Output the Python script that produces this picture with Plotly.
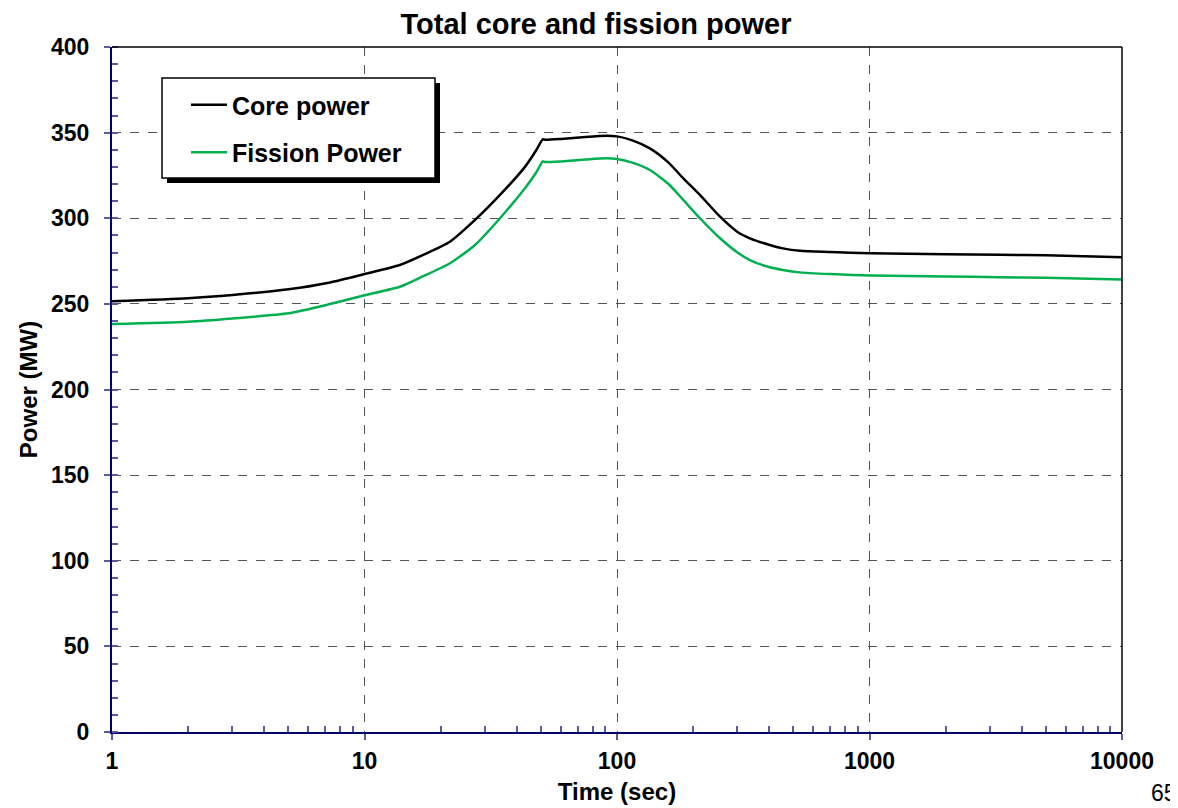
import plotly.graph_objects as go

# ---- data ----
time_s = [1, 2, 3, 5, 7.3, 10, 13.8, 17, 21.8, 27.4, 34.4, 43.2, 48, 50.8, 52, 60, 75, 91, 100,
          115, 135, 160, 183, 213, 256, 300, 336, 400, 454, 531, 700, 1000, 2000, 3290, 5000, 10000]
core_power = [251.5, 253.3, 255.2, 258.5, 262.5, 267.4, 272.7, 278.5, 286.3, 299.0, 313.6, 330.0,
              340.0, 346.1, 345.8, 346.3, 347.5, 348.2, 347.8, 345.5, 340.8, 332.5, 323.3, 313.6,
              300.9, 292.0, 288.3, 284.5, 282.4, 281.0, 280.3, 279.5, 279.0, 278.7, 278.4, 277.2]
fission_power = [238.2, 239.6, 241.5, 244.5, 249.9, 255.0, 260.0, 266.0, 273.7, 284.4, 300.0, 317.5,
                 327.0, 333.2, 332.8, 333.2, 334.3, 335.0, 334.6, 332.5, 328.2, 320.0, 310.7, 300.0,
                 288.3, 280.0, 275.6, 271.5, 269.8, 268.4, 267.4, 266.5, 266.0, 265.6, 265.2, 264.2]
series_names = ["Core power", "Fission Power"]
x_ticks = [1, 10, 100, 1000, 10000]
x_tick_labels = ["1", "10", "100", "1000", "10000"]
x_minor_ticks = [m * 10 ** d for d in range(4) for m in range(2, 10)]

# the page body has an 8px margin, so the figure is drawn 8px in from the window corner
OFF = 8
W, H = 1178 - OFF, 808 - OFF
# plot area in window pixels
L, R, T, B = 112, 1122, 47, 732


def px(x):
    return (x - L) / (R - L)


def py(y):
    return (B - y) / (B - T)


FONT = "Liberation Sans, Arial, sans-serif"
NAVY = "#000066"
TICK = "#5a5aa0"

fig = go.Figure()
fig.add_trace(go.Scatter(x=time_s, y=core_power, mode="lines", name="<b>" + series_names[0] + "</b>",
                         legendgroup="a", line=dict(color="black", width=2.5, shape="spline", smoothing=0.6)))
fig.add_trace(go.Scatter(x=time_s, y=fission_power, mode="lines", name="<b>" + series_names[1] + "</b>",
                         legendgroup="b", line=dict(color="#00b050", width=2.5, shape="spline", smoothing=0.6)))

shapes = [
    # legend shadow + box
    dict(type="rect", xref="paper", yref="paper", x0=px(167), x1=px(440), y0=py(183), y1=py(83),
         fillcolor="black", line=dict(width=0), layer="above"),
    dict(type="rect", xref="paper", yref="paper", x0=px(162), x1=px(435), y0=py(178), y1=py(78),
         fillcolor="white", line=dict(color="black", width=1.5), layer="above"),
    # top and right frame
    dict(type="line", xref="paper", yref="paper", x0=0, x1=1, y0=1, y1=1,
         line=dict(color="black", width=1.5), layer="above"),
    dict(type="line", xref="paper", yref="paper", x0=1, x1=1, y0=0, y1=1,
         line=dict(color="black", width=1.5), layer="above"),
]

tickfont = dict(size=23, family=FONT, color="black", weight="bold")

fig.update_layout(
    width=W, height=H,
    margin=dict(l=L - OFF, r=W - (R - OFF), t=T - OFF, b=H - (B - OFF), autoexpand=False),
    paper_bgcolor="white", plot_bgcolor="white",
    font=dict(family=FONT, color="black"),
    title=dict(text="<b>Total core and fission power</b>", x=(596 - OFF) / W, xanchor="center",
               y=1 - (24 - OFF) / H, yanchor="middle", font=dict(size=29, family=FONT, color="black")),
    xaxis=dict(type="log", range=[0, 4], tickvals=x_ticks, ticktext=x_tick_labels, automargin=False,
               showline=True, linecolor=NAVY, linewidth=2,
               showgrid=True, gridcolor="#555555", griddash="dash", gridwidth=1,
               ticks="outside", ticklen=6, tickcolor=TICK, tickwidth=1.5, ticklabelstandoff=1,
               minor=dict(tickvals=x_minor_ticks, ticks="inside", ticklen=6, tickcolor=TICK,
                          tickwidth=1.5, showgrid=False),
               tickfont=tickfont, zeroline=False,
               title=dict(text="<b>Time (sec)</b>", font=dict(size=24, family=FONT, color="black"),
                          standoff=11)),
    yaxis=dict(range=[0, 400], dtick=50, automargin=False,
               showline=True, linecolor=NAVY, linewidth=2,
               showgrid=True, gridcolor="#555555", griddash="dash", gridwidth=1,
               ticks="outside", ticklen=6, tickcolor=TICK, tickwidth=1.5, ticklabelstandoff=10,
               minor=dict(dtick=10, ticks="inside", ticklen=6, tickcolor=TICK, tickwidth=1.5, showgrid=False),
               tickfont=tickfont, zeroline=False,
               title=dict(text="<b>Power (MW)</b>", font=dict(size=24, family=FONT, color="black"),
                          standoff=7)),
    legend=dict(x=px(186), y=py(82), xanchor="left", yanchor="top", bgcolor="rgba(0,0,0,0)",
                borderwidth=0, font=dict(size=25, family=FONT, color="black"),
                traceorder="grouped", tracegroupgap=12, itemwidth=36),
    showlegend=True,
    shapes=shapes,
    annotations=[dict(text="65", xref="paper", yref="paper", x=px(1149), y=py(808),
                      xanchor="left", yanchor="bottom", showarrow=False,
                      font=dict(size=23, family=FONT, color="black"))],
)

fig.write_html("out.html")
